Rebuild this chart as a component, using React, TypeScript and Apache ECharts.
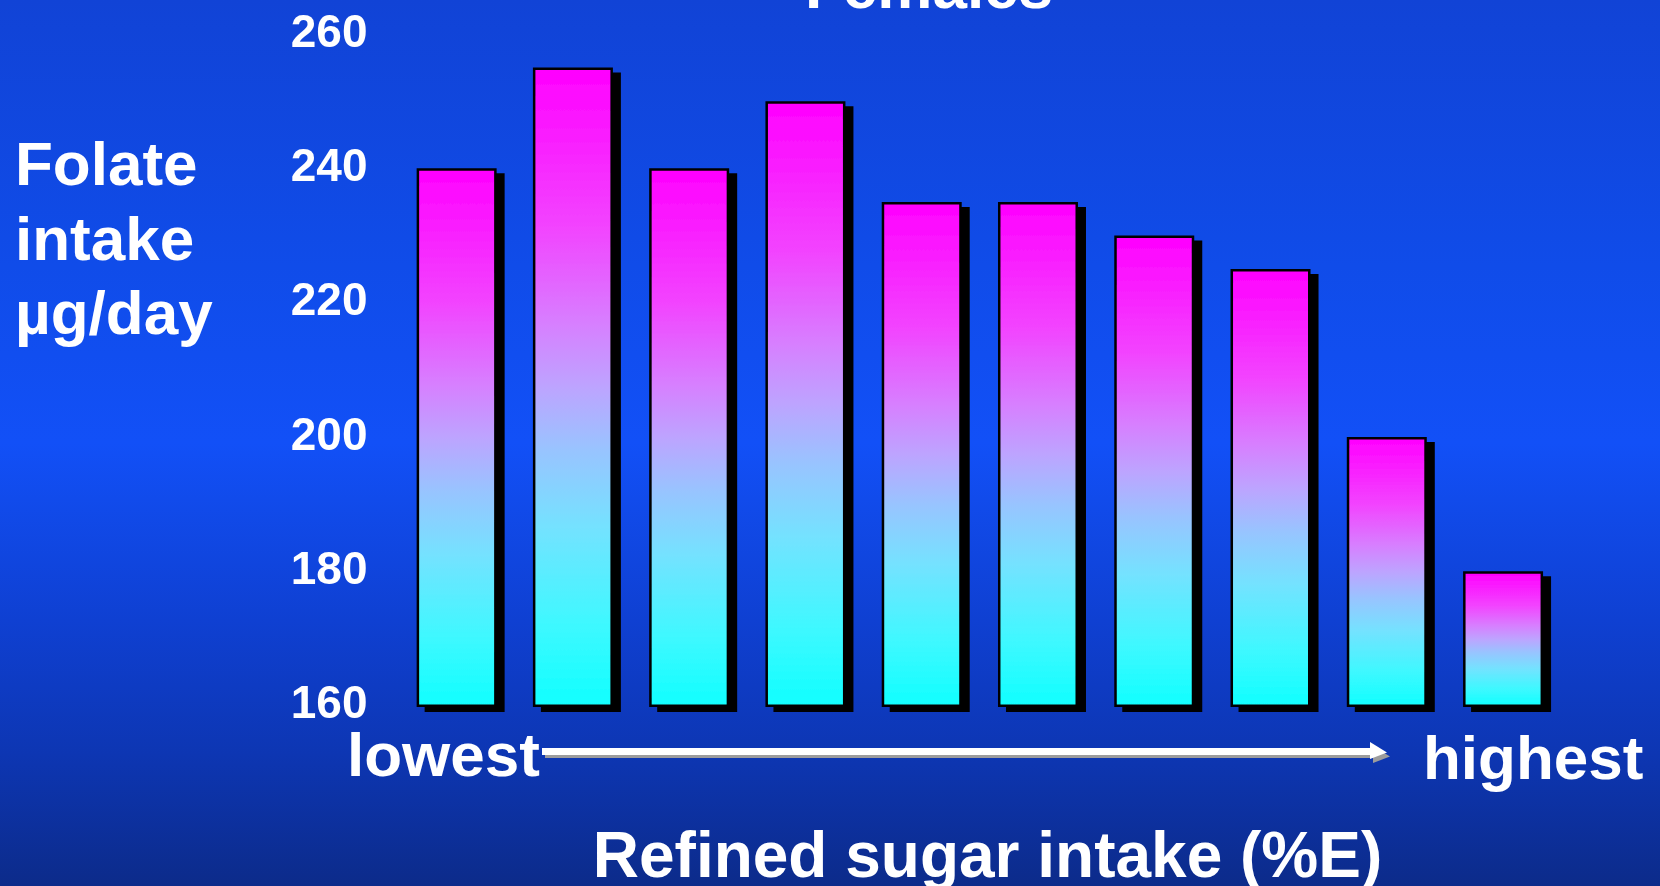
import React, { useEffect, useRef } from "react";
import * as echarts from "echarts";

// Refined sugar intake groups, lowest to highest
const sugarGroups = ["D1", "D2", "D3", "D4", "D5", "D6", "D7", "D8", "D9", "D10"];
// Mean folate intake per group (µg/day)
const folateIntake = [240, 255, 240, 250, 235, 235, 230, 225, 200, 180];
// Value axis range
const axisMin = 160;
const axisMax = 260;
const axisStep = 20;

const titleText = "Females";
const yTitleLines = ["Folate", "intake", "\u00b5g/day"];
const xTitle = "Refined sugar intake (%E)";
const lowLabel = "lowest";
const highLabel = "highest";

const FONT = "'Liberation Sans', Arial, Helvetica, sans-serif";

export default function App() {
  const ref = useRef<HTMLDivElement>(null);

  useEffect(() => {
    if (!ref.current) return;
    const chart = echarts.init(ref.current, null, { renderer: "svg" });

    const barFill = new echarts.graphic.LinearGradient(0, 0, 0, 1, [
      { offset: 0, color: "#ff00ff" },
      { offset: 0.25, color: "#f244ff" },
      { offset: 0.4, color: "#d77fff" },
      { offset: 0.5, color: "#bda4ff" },
      { offset: 0.6, color: "#98c4ff" },
      { offset: 0.72, color: "#74e2ff" },
      { offset: 0.87, color: "#3ff8ff" },
      { offset: 1, color: "#10ffff" },
    ]);

    const bg = new echarts.graphic.LinearGradient(0, 0, 0, 1, [
      { offset: 0, color: "#1143d6" },
      { offset: 0.3, color: "#104ce9" },
      { offset: 0.5, color: "#1250f7" },
      { offset: 0.7, color: "#0f40d2" },
      { offset: 0.85, color: "#0d36b3" },
      { offset: 1, color: "#0c2b8a" },
    ]);

    const bigText = (text: string, x: number, y: number, align: string, size = 62) => ({
      type: "text",
      z: 10,
      style: {
        text,
        x,
        y,
        fill: "#ffffff",
        font: `bold ${size}px ${FONT}`,
        textAlign: align,
        textVerticalAlign: "middle",
      },
    });

    const shaftY = 751.5;
    const shaftStart = 542;
    const shaftEnd = 1372;
    const head = [
      [1370, 742],
      [1387, 752.5],
      [1370, 759],
    ];

    chart.setOption({
      animation: false,
      backgroundColor: "transparent",
      grid: { left: 398.5, top: 34, width: 1162.7, height: 671.7, containLabel: false },
      xAxis: {
        type: "category",
        data: sugarGroups,
        axisLine: { show: false },
        axisTick: { show: false },
        axisLabel: { show: false },
        splitLine: { show: false },
      },
      yAxis: {
        type: "value",
        min: axisMin,
        max: axisMax,
        interval: axisStep,
        axisLine: { show: false },
        axisTick: { show: false },
        splitLine: { show: false },
        axisLabel: {
          margin: 31,
          formatter: "{v|{value}}",
          rich: {
            v: {
              color: "#ffffff",
              fontFamily: FONT,
              fontWeight: "bold",
              fontSize: 46,
              padding: [0, 0, 7, 0],
              textShadowColor: "#a86420",
              textShadowOffsetX: 1,
              textShadowOffsetY: 1,
              textShadowBlur: 0,
            },
          },
        },
      },
      graphic: [
        {
          type: "rect",
          z: -10,
          silent: true,
          shape: { x: 0, y: 0, width: 1660, height: 886 },
          style: { fill: bg },
        },
        bigText(titleText, 929, -14, "center", 62),
        bigText(yTitleLines[0], 15, 163, "left"),
        bigText(yTitleLines[1], 15, 238, "left"),
        bigText(yTitleLines[2], 15, 312, "left"),
        bigText(lowLabel, 347, 754, "left"),
        bigText(highLabel, 1423, 757, "left"),
        bigText(xTitle, 987.5, 855, "center", 64),
        // arrow shadow
        {
          type: "line",
          z: 8,
          shape: { x1: shaftStart + 3, y1: shaftY + 3, x2: shaftEnd + 3, y2: shaftY + 3 },
          style: { stroke: "#9c9c9c", lineWidth: 7 },
        },
        {
          type: "polygon",
          z: 8,
          shape: { points: head.map(([x, y]) => [x + 3, y + 4]) },
          style: { fill: "#9c9c9c" },
        },
        // arrow
        {
          type: "line",
          z: 9,
          shape: { x1: shaftStart, y1: shaftY, x2: shaftEnd, y2: shaftY },
          style: { stroke: "#ffffff", lineWidth: 7 },
        },
        {
          type: "polygon",
          z: 9,
          shape: { points: head },
          style: { fill: "#ffffff" },
        },
      ],
      series: [
        {
          type: "bar",
          data: folateIntake,
          barWidth: 80,
          itemStyle: {
            color: barFill,
            borderColor: "#000000",
            borderWidth: 2.5,
            shadowColor: "#000000",
            shadowOffsetX: 8,
            shadowOffsetY: 5,
            shadowBlur: 0,
          },
        },
      ],
    });

    return () => chart.dispose();
  }, []);

  return (
    <div
      ref={ref}
      style={{ position: "fixed", left: 0, top: 0, width: 1660, height: 886 }}
    />
  );
}
